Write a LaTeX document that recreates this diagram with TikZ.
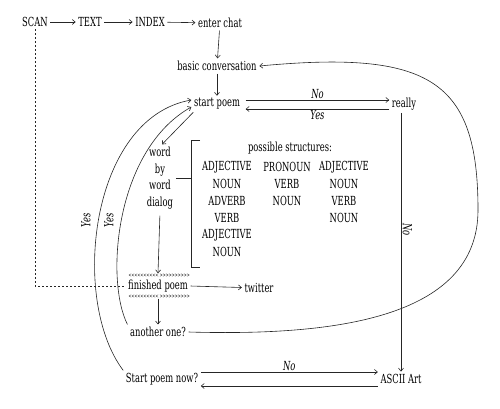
\documentclass[tikz,border=0pt]{standalone}
\usepackage{fontspec}
\setmainfont{DejaVu Serif}[FakeStretch=0.67]
\usetikzlibrary{arrows.meta}
\begin{document}
\begin{tikzpicture}[x=1pt,y=-1pt,
  lbl/.style={font=\fontsize{12.5}{14}\selectfont, inner sep=2.5pt},
  tag/.style={font=\fontsize{12.5}{14}\selectfont\itshape, inner sep=1.5pt},
  wire/.style={line width=0.6pt, draw=black!85},
  arr/.style={wire, -{Straight Barb[length=3pt,width=5pt]}},
  dots/.style={line width=0.6pt, draw=black!85, dash pattern=on 2pt off 2pt},
  chev/.style={line width=0.35pt, draw=black!80}]
\useasboundingbox (0,0) rectangle (500,408);

% main chain
\node[lbl] (scan)  at (35,22)  {SCAN};
\node[lbl] (text)  at (90,22)  {TEXT};
\node[lbl] (index) at (150,22) {INDEX};
\node[lbl] (chat)  at (220,23) {enter chat};
\node[lbl] (basic) at (217,66) {basic conversation};
\node[lbl] (start) at (217,104) {start poem};
\node[lbl] (really) at (404,104) {really};
\node[lbl, align=center, font=\fontsize{12.5}{16.5}\selectfont] (wbw) at (160,178) {word\\by\\word\\dialog};
\node[lbl, minimum height=25pt] (finished) at (158,286) {finished poem};
\node[lbl] (twitter) at (259,288) {twitter};
\node[lbl] (another) at (158,332) {another one?};
\node[lbl] (spn)   at (162,379) {Start poem now?};
\node[lbl] (ascii) at (401,379) {ASCII Art};

% structures
\node[lbl] (ps) at (290,148) {possible structures:};
\node[lbl] (a1) at (227,167) {ADJECTIVE};
\node[lbl] (a2) at (227,184) {NOUN};
\node[lbl] (a3) at (227,201) {ADVERB};
\node[lbl] (a4) at (227,218) {VERB};
\node[lbl] (a5) at (227,235) {ADJECTIVE};
\node[lbl] (a6) at (227,252) {NOUN};
\node[lbl] (b1) at (287,167) {PRONOUN};
\node[lbl] (b2) at (287,184) {VERB};
\node[lbl] (b3) at (287,201) {NOUN};
\node[lbl] (c1) at (344,167) {ADJECTIVE};
\node[lbl] (c2) at (344,184) {NOUN};
\node[lbl] (c3) at (344,201) {VERB};
\node[lbl] (c4) at (344,218) {NOUN};

% bracket
\coordinate (brk) at (191,178);
\draw[wire] (200,140) -- (191,140) -- (191,267) -- (200,267);
\draw[wire] (wbw.east) -- (brk);

% chevrons round finished poem
\foreach \yy in {275,296} {
  \foreach \i in {0,...,9}
    \draw[chev] ({129+\i*3+2.2},{\yy-1.3}) -- ({129+\i*3},\yy) -- ({129+\i*3+2.2},{\yy+1.3});
  \foreach \i in {0,...,9}
    \draw[chev] ({160+\i*3},{\yy-1.3}) -- ({160+\i*3+2.2},\yy) -- ({160+\i*3},{\yy+1.3});
}

% connectors
\draw[arr] (scan) -- (text);
\draw[arr] (text) -- (index);
\draw[arr] (index) -- (chat);
\draw[arr] (chat) -- (basic);
\draw[arr] (basic) -- (start);
\draw[arr] ([xshift=3pt,yshift=4pt]start.east) -- node[tag, above] {No} ([yshift=4pt]really.west);
\draw[arr] ([yshift=-5pt]really.west) -- node[tag, below] {Yes} ([xshift=3pt,yshift=-5pt]start.east);
\draw[arr] ([xshift=2pt]start.south west) -- ([xshift=2pt]wbw.north);
\draw[arr, shorten <=4pt] (wbw.south) -- (finished.north);
\draw[arr] (finished.east) -- (twitter);
\draw[arr] (finished.south) -- (another.north);
\draw[dots] (scan.south) |- (finished.west);
\draw[arr] (ascii.north |- really.south) -- node[tag, pos=0.45, rotate=-90, anchor=south] {No} (ascii.north);
\draw[arr] ([yshift=7pt]spn.east) -- node[tag, above] {No} ([yshift=7pt]ascii.west);
\draw[arr] ([yshift=-7pt]ascii.west) -- ([yshift=-7pt]spn.east);

% curves
\draw[arr] (spn.north west) .. controls (70,300) and (90,118) .. ([yshift=4pt]start.west);
\draw[arr] (another.north west) .. controls (105,280) and (115,150) .. ([yshift=-3pt]start.west);
\node[tag, rotate=90] (y1) at (86,220) {Yes};
\node[tag, rotate=90] (y2) at (109,220) {Yes};
\coordinate (rt) at (478,210);
\draw[wire] (another.east) .. controls (330,336) and (478,320) .. (rt);
\draw[arr] (rt) .. controls (478,80) and (430,50) .. (basic.east);
\end{tikzpicture}
\end{document}
